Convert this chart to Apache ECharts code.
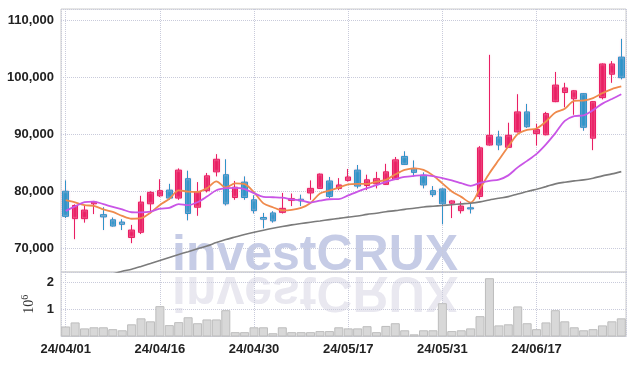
<!DOCTYPE html>
<html>
<head>
<meta charset="utf-8">
<script src="https://cdn.jsdelivr.net/npm/echarts@6/dist/echarts.min.js"></script>
<style>
html, body { margin: 0; padding: 0; background: #fff; }
#chart1 { width: 634px; height: 366px; }
</style>
</head>
<body>
<div id="chart1"></div>
<script>
// trading days (KRX calendar)
var dates = ['24/04/01', '24/04/02', '24/04/03', '24/04/04', '24/04/05', '24/04/08', '24/04/09', '24/04/11', '24/04/12', '24/04/15',
    '24/04/16', '24/04/17', '24/04/18', '24/04/19', '24/04/22', '24/04/23', '24/04/24', '24/04/25', '24/04/26', '24/04/29',
    '24/04/30', '24/05/02', '24/05/03', '24/05/07', '24/05/08', '24/05/09', '24/05/10', '24/05/13', '24/05/14', '24/05/16',
    '24/05/17', '24/05/20', '24/05/21', '24/05/22', '24/05/23', '24/05/24', '24/05/27', '24/05/28', '24/05/29', '24/05/30',
    '24/05/31', '24/06/03', '24/06/04', '24/06/05', '24/06/07', '24/06/10', '24/06/11', '24/06/12', '24/06/13', '24/06/14',
    '24/06/17', '24/06/18', '24/06/19', '24/06/20', '24/06/21', '24/06/24', '24/06/25', '24/06/26', '24/06/27', '24/06/28'];

var openP = [80000, 75200, 75200, 77800, 75900, 75000, 74600, 71900, 72800, 77800,
    79200, 80200, 78800, 82200, 77200, 80100, 83400, 82900, 78900, 81600,
    78500, 75400, 76200, 76300, 78400, 78600, 79700, 80500, 81800, 80500,
    81900, 83700, 81000, 81300, 81200, 82100, 86100, 84000, 82800, 80100,
    80400, 77900, 76600, 77100, 79100, 88100, 89500, 87700, 90400, 93900,
    90100, 89900, 95700, 97300, 96200, 97100, 89300, 96400, 100500, 103500];
var closeP = [75600, 77500, 76700, 78100, 75500, 73900, 74200, 73200, 78100, 79800,
    80100, 78800, 83700, 76100, 79900, 82700, 85600, 77800, 80700, 78900,
    76600, 75100, 74800, 77000, 78700, 78300, 80500, 83000, 79100, 81100,
    82500, 80900, 82000, 82200, 83400, 85500, 84700, 83300, 81100, 79400,
    77800, 78300, 77400, 76900, 87600, 89800, 88100, 89800, 93900, 91300,
    90800, 93600, 98600, 98100, 97600, 91200, 95700, 102300, 102300, 99900];
var lowP = [75300, 71600, 74500, 76000, 73200, 73800, 73200, 70900, 72500, 76500,
    79000, 78500, 78500, 74900, 75700, 79800, 82600, 77500, 78500, 78500,
    76100, 73500, 74500, 76100, 77400, 77400, 78500, 80400, 78800, 80200,
    81700, 80500, 80200, 80500, 81100, 82000, 84600, 82600, 80500, 79000,
    74200, 75300, 76100, 76100, 78600, 88000, 87200, 87600, 90300, 91100,
    88000, 89800, 95600, 94700, 93400, 90600, 87200, 96100, 99000, 99600];
var highP = [81900, 77700, 77600, 78300, 77200, 75400, 75100, 74100, 79200, 80000,
    82100, 81300, 84000, 83600, 81600, 83200, 86500, 85600, 81800, 82600,
    79300, 76200, 76500, 79700, 79600, 79400, 81900, 83100, 82500, 82300,
    83900, 84600, 82900, 83400, 84800, 86000, 87000, 85400, 83300, 80900,
    80500, 78400, 78200, 78000, 87900, 103900, 90600, 92000, 97000, 95300,
    91800, 93900, 100900, 99000, 97700, 97200, 95800, 102400, 102800, 106700];

var ma5 = [78430, 78040, 77550, 77430, 76810, 76380, 75670, 75180, 75270, 76250,
    77600, 78660, 80150, 79940, 79880, 80530, 81730, 80670, 81370, 81230,
    79800, 77870, 77200, 76640, 76730, 77080, 77950, 79590, 80110, 80640,
    81200, 81290, 81290, 81690, 81990, 82950, 83740, 84010, 83740, 82780,
    81370, 79970, 79010, 78010, 80500, 83160, 85500, 87830, 90000, 90760,
    90990, 92210, 93790, 94440, 95840, 95900, 96320, 97200, 97900, 98360];
var ma20 = [76550, 77340, 78080, 78180, 77740, 77250, 76810, 76320, 76290, 76430,
    76940, 77080, 77740, 77550, 78080, 79060, 80180, 80530, 80590, 80380,
    79660, 79010, 78950, 78880, 78570, 78390, 78010, 78340, 78600, 78620,
    79270, 79940, 80530, 81060, 81640, 82130, 82520, 82690, 82810, 82640,
    82300, 81900, 81410, 80940, 81460, 81810, 82040, 82780, 84180, 85320,
    86550, 88220, 90180, 92340, 93160, 93300, 94210, 95350, 96160, 96990];
var ma60 = [null, null, null, null, null, 65500, 65980, 66340, 66820, 67340,
    67870, 68400, 68920, 69410, 69920, 70410, 71010, 71540, 71990, 72430,
    72820, 73180, 73520, 73820, 74100, 74340, 74570, 74800, 75030, 75240,
    75460, 75670, 75940, 76150, 76410, 76600, 76830, 77020, 77250, 77380,
    77500, 77640, 77780, 77900, 78130, 78480, 78780, 79060, 79530, 79940,
    80360, 80810, 81290, 81580, 81810, 81990, 82290, 82690, 83040, 83440];

var volume = [370000, 520000, 300000, 340000, 340000, 270000, 230000, 450000, 670000, 560000,
    1120000, 420000, 530000, 710000, 490000, 630000, 630000, 970000, 160000, 160000,
    340000, 340000, 120000, 340000, 160000, 160000, 160000, 200000, 200000, 340000,
    300000, 300000, 380000, 160000, 390000, 490000, 230000, 80000, 230000, 230000,
    1230000, 200000, 230000, 300000, 750000, 2150000, 410000, 450000, 1110000, 490000,
    270000, 520000, 970000, 560000, 340000, 230000, 270000, 410000, 560000, 670000];

drawChart1();

function drawChart1() {
    var dom1 = document.getElementById("chart1");
    var myChart1 = echarts.init(dom1);
    var upColor = '#e91e63';
    var downColor = '#2f94c9';
    var gridLine = '#c9cbdb';
    var labelFont = "'Liberation Sans Narrow', 'Liberation Sans', sans-serif";

    var candles = [];
    for (var i = 0; i < dates.length; i++) {
        candles.push([openP[i], closeP[i], lowP[i], highP[i]]);
    }

    var option = {
        animation: false,
        graphic: [{
            type: 'text',
            x: 172,
            y: 231,
            z: -10,
            silent: true,
            style: {
                text: 'investCRUX',
                font: 'bold 50px "Liberation Sans"',
                fill: '#c6cce6',
                textVerticalAlign: 'top'
            }
        }, {
            type: 'text',
            x: 172,
            y: 316,
            scaleY: -1,
            z: -10,
            silent: true,
            style: {
                text: 'investCRUX',
                font: 'bold 50px "Liberation Sans"',
                fill: '#e9e8f0',
                textVerticalAlign: 'top'
            }
        }],
        grid: [{
            left: 61,
            right: 8,
            top: 9,
            height: 263,
            show: true,
            borderColor: '#cccccc',
            borderWidth: 1
        }, {
            left: 61,
            right: 8,
            top: 272,
            height: 64.5,
            show: true,
            borderColor: '#cccccc',
            borderWidth: 1
        }],
        xAxis: [{
            type: 'category',
            gridIndex: 0,
            data: dates,
            boundaryGap: true,
            axisLine: { show: false },
            axisTick: { show: false },
            axisLabel: { show: false },
            splitLine: { show: false }
        }, {
            type: 'category',
            gridIndex: 1,
            data: dates,
            boundaryGap: true,
            axisLine: { show: false },
            axisTick: { show: false },
            axisLabel: {
                interval: 9,
                margin: 6,
                color: '#222',
                fontSize: 13,
                fontWeight: 'bold',
                fontFamily: labelFont
            },
            splitLine: { show: false }
        }, {
            // only for the dotted vertical lines at every 10th day
            type: 'value',
            gridIndex: 0,
            min: -0.5,
            max: dates.length - 0.5,
            splitNumber: 6,
            axisLine: { show: false },
            axisTick: { show: false },
            axisLabel: { show: false },
            splitLine: { lineStyle: { color: gridLine, type: 'dotted' } }
        }, {
            type: 'value',
            gridIndex: 1,
            min: -0.5,
            max: dates.length - 0.5,
            splitNumber: 6,
            axisLine: { show: false },
            axisTick: { show: false },
            axisLabel: { show: false },
            splitLine: { lineStyle: { color: gridLine, type: 'dotted' } }
        }],
        yAxis: [{
            type: 'value',
            gridIndex: 0,
            min: 65850,
            max: 111930,
            splitNumber: 5,
            axisLine: { show: false },
            axisTick: { show: false },
            axisLabel: {
                showMinLabel: false,
                showMaxLabel: false,
                margin: 7,
                color: '#222',
                fontSize: 13,
                fontWeight: 'bold',
                fontFamily: labelFont
            },
            splitLine: { lineStyle: { color: gridLine, type: 'dotted' } }
        }, {
            type: 'value',
            gridIndex: 1,
            min: 0,
            max: 2380000,
            splitNumber: 2,
            name: '10{sup|6}',
            nameLocation: 'middle',
            nameRotate: 90,
            nameGap: 24,
            nameTextStyle: {
                color: '#333',
                fontSize: 14,
                fontFamily: "'Liberation Serif', serif",
                rich: {
                    sup: {
                        fontSize: 10,
                        color: '#333',
                        fontFamily: "'Liberation Serif', serif",
                        verticalAlign: 'top',
                        padding: [0, 0, 6, 0]
                    }
                }
            },
            axisLine: { show: false },
            axisTick: { show: false },
            axisLabel: {
                showMaxLabel: false,
                margin: 7,
                color: '#222',
                fontSize: 13,
                fontWeight: 'bold',
                fontFamily: labelFont,
                formatter: function (v) {
                    if (v > 0 && v % 1000000 === 0) {
                        return v / 1000000;
                    }
                    return '';
                }
            },
            splitLine: { lineStyle: { color: gridLine, type: 'dotted' } }
        }],
        series: [{
            name: 'price',
            type: 'candlestick',
            xAxisIndex: 0,
            yAxisIndex: 0,
            barWidth: 6,
            z: 3,
            itemStyle: {
                color: upColor,
                color0: downColor,
                borderColor: upColor,
                borderColor0: downColor,
                borderWidth: 1,
                shadowBlur: 2,
                shadowColor: 'rgba(255,200,220,0.9)'
            },
            data: candles
        }, {
            name: 'MA5',
            type: 'line',
            xAxisIndex: 0,
            yAxisIndex: 0,
            smooth: 0.3,
            showSymbol: false,
            z: 4,
            lineStyle: { color: '#ef8a4c', width: 1.8 },
            data: ma5
        }, {
            name: 'MA20',
            type: 'line',
            xAxisIndex: 0,
            yAxisIndex: 0,
            smooth: 0.3,
            showSymbol: false,
            z: 4,
            lineStyle: { color: '#c955e6', width: 1.8 },
            data: ma20
        }, {
            name: 'MA60',
            type: 'line',
            xAxisIndex: 0,
            yAxisIndex: 0,
            smooth: 0.3,
            showSymbol: false,
            clip: true,
            z: 4,
            lineStyle: { color: '#7b7b7b', width: 1.6 },
            data: ma60
        }, {
            name: 'volume',
            type: 'bar',
            xAxisIndex: 1,
            yAxisIndex: 1,
            barCategoryGap: '4%',
            itemStyle: {
                color: '#d8d8d8',
                borderColor: '#bdbdbd',
                borderWidth: 1
            },
            data: volume
        }]
    };
    if (option && typeof option === "object") {
        myChart1.setOption(option, true);
        window.onresize = myChart1.resize;
    }
}
</script>
</body>
</html>
